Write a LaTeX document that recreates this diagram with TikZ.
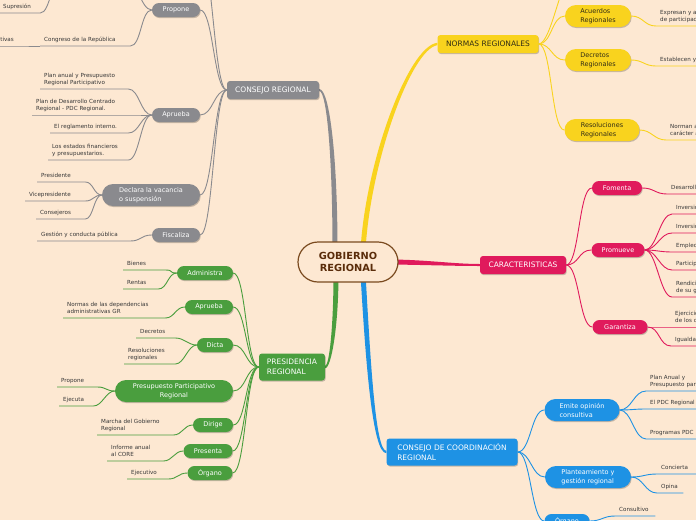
\documentclass[tikz,border=0pt]{standalone}
\usepackage{fontspec}
\setmainfont{DejaVu Sans}
\usetikzlibrary{shadows,calc}
\pgfdeclarelayer{back}
\pgfsetlayers{back,main}
\definecolor{bgc}{RGB}{253,232,210}
\definecolor{grayc}{RGB}{138,138,142}
\definecolor{yelc}{RGB}{249,211,30}
\definecolor{pinkc}{RGB}{224,26,92}
\definecolor{bluec}{RGB}{30,146,228}
\definecolor{greenc}{RGB}{74,158,62}
\definecolor{brownc}{RGB}{122,74,31}
\definecolor{ctext}{RGB}{90,44,10}
\definecolor{leafc}{RGB}{55,55,55}
\definecolor{ytext}{RGB}{50,45,20}
\begin{document}
\begin{tikzpicture}[x=1pt,y=-1pt,
  shd/.style={drop shadow={shadow xshift=0.7pt,shadow yshift=-1.1pt,opacity=0.22,fill=black}},
  mainb/.style={shd,rounded corners=3pt,inner sep=0pt,font=\fontsize{7.5}{10}\selectfont,text=white,align=left},
  pill/.style={shd,rounded corners=7pt,inner sep=0pt,minimum height=14pt,font=\fontsize{6.5}{9}\selectfont,text=white,align=left},
  pilltwo/.style={pill,rounded corners=11pt,minimum height=22pt},
  leaf/.style={font=\fontsize{5.6}{7.8}\selectfont,text=leafc,inner xsep=4pt,inner ysep=1.6pt,execute at end node=\strut,anchor=south west,align=left},
  gl/.style={draw=grayc,line width=0.9pt},
  yl/.style={draw=yelc,line width=0.9pt},
  pl/.style={draw=pinkc,line width=0.9pt},
  bl/.style={draw=bluec,line width=0.9pt},
  grl/.style={draw=greenc,line width=0.9pt}]
\useasboundingbox (0,0) rectangle (696,520);
\clip (0,0) rectangle (696,520);

% ---------- center and main topics
\node[draw=brownc,line width=1.2pt,fill=bgc,rounded corners=20pt,minimum width=100pt,minimum height=40pt,inner sep=0pt,font=\bfseries\fontsize{9.8}{12}\selectfont,text=ctext,align=center] (gr) at (348,262) {GOBIERNO\\REGIONAL};
\node[mainb,fill=grayc,minimum width=92pt,minimum height=18pt] (cr) at (273,90) {CONSEJO REGIONAL};
\node[mainb,fill=yelc,text=ytext,minimum width=101pt,minimum height=18pt] (nr) at (488,44) {NORMAS REGIONALES};
\node[mainb,fill=pinkc,minimum width=86pt,minimum height=18pt] (car) at (523,265) {CARACTERISTICAS};
\node[mainb,fill=bluec,minimum width=131pt,minimum height=27pt] (ccr) at (452,452) {CONSEJO DE COORDINACIÓN\\REGIONAL};
\node[mainb,fill=greenc,minimum width=66pt,minimum height=27pt] (pr) at (292,367) {PRESIDENCIA\\REGIONAL};

% ---------- CONSEJO REGIONAL
\node[pill,fill=grayc,minimum width=48pt] (gPro) at (176,10) {Propone};
\node[pill,fill=grayc,minimum width=48pt] (gApr) at (176,115) {Aprueba};
\node[pilltwo,fill=grayc,minimum width=98pt] (gDec) at (151,195) {Declara la vacancia\\o suspensión};
\node[pill,fill=grayc,minimum width=48pt] (gFis) at (176,235) {Fiscaliza};
\coordinate (crUp) at (200,-45);
\coordinate (proUp) at (125,-25);
\coordinate (supUp) at (62,-25);
\foreach \c in {gPro,gApr,gDec,gFis,crUp}
  \draw[gl] (cr.west) .. controls +(-13,0) and +(13,0) .. (\c.east);
\draw[gl] (gPro.west) .. controls +(-12,0) and +(12,0) .. (proUp);

\node[leaf,text width=82pt] (gCon) at (40,46) {Congreso de la República};
\node[leaf,anchor=south east,align=right,text width=90pt] (gIni) at (18,46) {Iniciativas legislativas};
\node[leaf,text width=33pt] (gSup) at (-1,13) {Supresión};
\node[leaf,text width=80pt] (gA1) at (40,89) {Plan anual y Presupuesto\\Regional Participativo};
\node[leaf,text width=90pt] (gA2) at (32,115) {Plan de Desarrollo Centrado\\Regional - PDC Regional.};
\node[leaf,text width=70pt] (gA3) at (50,133) {El reglamento interno.};
\node[leaf,text width=72pt] (gA4) at (48,160) {Los estados financieros\\y presupuestarios.};
\node[leaf,text width=40pt] (gD1) at (37,182) {Presidente};
\node[leaf,text width=52pt] (gD2) at (25,201) {Vicepresidente};
\node[leaf,text width=41pt] (gD3) at (36,219) {Consejeros};
\node[leaf,text width=85pt] (gF1) at (37,241) {Gestión y conducta pública};

\draw[gl] (gCon.south west) -- (gCon.south east) .. controls +(11,0) and +(-11,0) .. (gPro.west);
\draw[gl] (gIni.south west) -- (gIni.south east) -- (gCon.south west);
\draw[gl] (gSup.south west) -- (gSup.south east) .. controls +(10,0) and +(-10,0) .. (supUp);
\foreach \l in {gA1,gA2,gA3,gA4}
  \draw[gl] (\l.south west) -- (\l.south east) .. controls +(11,0) and +(-11,0) .. (gApr.west);
\foreach \l in {gD1,gD2,gD3}
  \draw[gl] (\l.south west) -- (\l.south east) .. controls +(8,0) and +(-8,0) .. (gDec.west);
\draw[gl] (gF1.south west) -- (gF1.south east) .. controls +(11,0) and +(-11,0) .. (gFis.west);

% ---------- PRESIDENCIA REGIONAL
\node[pill,fill=greenc,minimum width=56pt] (pAdm) at (205,273) {Administra};
\node[pill,fill=greenc,minimum width=48pt] (pApr) at (209,307) {Aprueba};
\node[pill,fill=greenc,minimum width=36pt] (pDic) at (215,345) {Dicta};
\node[pilltwo,fill=greenc,minimum width=118pt,align=center] (pPpr) at (174,391) {Presupuesto Participativo\\Regional};
\node[pill,fill=greenc,minimum width=40pt] (pDir) at (213,425) {Dirige};
\node[pill,fill=greenc,minimum width=49pt] (pPre) at (208,451) {Presenta};
\node[pill,fill=greenc,minimum width=45pt] (pOrg) at (210,473) {Órgano};
\foreach \c in {pAdm,pApr,pDic,pPpr,pDir,pPre,pOrg}
  \draw[grl] (pr.west) .. controls +(-13,0) and +(13,0) .. (\c.east);

\node[leaf,text width=34pt] (pB1) at (123,270) {Bienes};
\node[leaf,text width=27pt] (pB2) at (123,289) {Rentas};
\node[leaf,text width=94pt] (pN1) at (63,318) {Normas de las dependencias\\administrativas GR};
\node[leaf,text width=31pt] (pDc1) at (136,338) {Decretos};
\node[leaf,text width=43pt] (pDc2) at (124,364) {Resoluciones\\regionales};
\node[leaf,text width=32pt] (pP1) at (57,387) {Propone};
\node[leaf,text width=26pt] (pP2) at (59,406) {Ejecuta};
\node[leaf,text width=68pt] (pM1) at (97,435) {Marcha del Gobierno\\Regional};
\node[leaf,text width=48pt] (pI1) at (107,461) {Informe anual\\al CORE};
\node[leaf,text width=33pt] (pE1) at (127,479) {Ejecutivo};
\foreach \l/\p in {pB1/pAdm,pB2/pAdm,pN1/pApr,pDc1/pDic,pDc2/pDic,pP1/pPpr,pP2/pPpr,pM1/pDir,pI1/pPre,pE1/pOrg}
  \draw[grl] (\l.south west) -- (\l.south east) .. controls +(9,0) and +(-9,0) .. (\p.west);

% ---------- NORMAS REGIONALES
\node[pilltwo,fill=yelc,text=ytext,minimum width=66pt] (yAc) at (598,16) {Acuerdos\\Regionales};
\node[pilltwo,fill=yelc,text=ytext,minimum width=66pt] (yDe) at (598,60) {Decretos\\Regionales};
\node[pilltwo,fill=yelc,text=ytext,minimum width=75pt] (yRe) at (602,130) {Resoluciones\\Regionales};
\coordinate (nrUp) at (575,-30);
\foreach \c in {yAc,yDe,yRe,nrUp}
  \draw[yl] (nr.east) .. controls +(13,0) and +(-13,0) .. (\c.west);
\node[leaf,text width=110pt] (yL1) at (656,26) {Expresan y aprueban asuntos\\de participación ciudadana};
\node[leaf,text width=110pt] (yL2) at (656,66) {Establecen y reglamentan};
\node[leaf,text width=110pt] (yL3) at (666,140) {Norman asuntos de\\carácter administrativo};
\foreach \l/\p in {yL1/yAc,yL2/yDe,yL3/yRe}
  \draw[yl] (\p.east) .. controls +(12,0) and +(-12,0) .. (\l.south west) -- (\l.south east);

% ---------- CARACTERISTICAS
\node[pill,fill=pinkc,minimum width=50pt] (cFo) at (617,188) {Fomenta};
\node[pill,fill=pinkc,minimum width=53pt] (cPr) at (618,250) {Promueve};
\node[pill,fill=pinkc,minimum width=55pt] (cGa) at (620,327) {Garantiza};
\foreach \c in {cFo,cPr,cGa}
  \draw[pl] (car.east) .. controls +(13,0) and +(-13,0) .. (\c.west);
\node[leaf,text width=110pt] (cF1) at (667,194) {Desarrollo integral};
\node[leaf,text width=110pt] (cP1) at (672,214) {Inversión pública};
\node[leaf,text width=110pt] (cP2) at (672,233) {Inversión privada};
\node[leaf,text width=110pt] (cP3) at (672,252) {Empleo};
\node[leaf,text width=110pt] (cP4) at (672,270) {Participación ciudadana};
\node[leaf,text width=110pt] (cP5) at (672,297) {Rendición de cuentas\\de su gestión};
\node[leaf,text width=110pt] (cG1) at (671,327) {Ejercicio pleno\\de los derechos};
\node[leaf,text width=110pt] (cG2) at (671,346) {Igualdad de oportunidades};
\foreach \l/\p in {cF1/cFo,cP1/cPr,cP2/cPr,cP3/cPr,cP4/cPr,cP5/cPr,cG1/cGa,cG2/cGa}
  \draw[pl] (\p.east) .. controls +(12,0) and +(-12,0) .. (\l.south west) -- (\l.south east);

% ---------- CONSEJO DE COORDINACION REGIONAL
\node[pilltwo,fill=bluec,minimum width=75pt] (bEm) at (582,410) {Emite opinión\\consultiva};
\node[pilltwo,fill=bluec,minimum width=86pt] (bPl) at (588,477) {Planteamiento y\\gestión regional};
\node[pill,fill=bluec,minimum width=45pt] (bOr) at (567,521) {Órgano};
\foreach \c in {bEm,bPl,bOr}
  \draw[bl] (ccr.east) .. controls +(13,0) and +(-13,0) .. (\c.west);
\node[leaf,text width=110pt] (bE1) at (646,391) {Plan Anual y\\Presupuesto participativo};
\node[leaf,text width=110pt] (bE2) at (646,409) {El PDC Regional};
\node[leaf,text width=110pt] (bE3) at (646,439) {Programas PDC Regional};
\node[leaf,text width=50pt] (bP1) at (657,474) {Concierta};
\node[leaf,text width=18pt] (bP2) at (657,493) {Opina};
\node[leaf,text width=32pt] (bO1) at (615,516) {Consultivo};
\foreach \l/\p in {bE1/bEm,bE2/bEm,bE3/bEm,bP1/bPl,bP2/bPl,bO1/bOr}
  \draw[bl] (\p.east) .. controls +(12,0) and +(-12,0) .. (\l.south west) -- (\l.south east);

% ---------- background and main branches
\begin{pgfonlayer}{back}
\fill[bgc] (0,0) rectangle (696,520);
% gray
\fill[grayc] ($(gr.center)+(-15.5,-12)$) .. controls ($(gr.center)+(-15.5,-100)$) and ($(cr.east)+(8,1)$) .. ($(cr.east)+(0,1)$)
  -- ($(cr.east)+(0,-1)$) .. controls ($(cr.east)+(11,-1)$) and ($(gr.center)+(-10.5,-100)$) .. ($(gr.center)+(-10.5,-12)$) -- cycle;
% yellow
\fill[yelc] ($(gr.center)+(12.5,-12)$) .. controls ($(gr.center)+(17.5,-100)$) and ($(nr.west)+(-29,2)$) .. ($(nr.west)+(0,-1.2)$)
  -- ($(nr.west)+(0,1.2)$) .. controls ($(nr.west)+(-26,5)$) and ($(gr.center)+(22.5,-100)$) .. ($(gr.center)+(17.5,-12)$) -- cycle;
% green
\fill[greenc] ($(gr.center)+(-9.5,12)$) .. controls ($(gr.center)+(-9.5,65)$) and ($(pr.east)+(6,1.2)$) .. ($(pr.east)+(0,1.2)$)
  -- ($(pr.east)+(0,-1.2)$) .. controls ($(pr.east)+(4,-1.2)$) and ($(gr.center)+(-14.5,65)$) .. ($(gr.center)+(-14.5,12)$) -- cycle;
% blue
\fill[bluec] ($(gr.center)+(17.5,12)$) .. controls ($(gr.center)+(22.5,98)$) and ($(ccr.west)+(-11,-1.2)$) .. ($(ccr.west)+(0,-1.2)$)
  -- ($(ccr.west)+(0,1.2)$) .. controls ($(ccr.west)+(-14,1.2)$) and ($(gr.center)+(17.5,98)$) .. ($(gr.center)+(12.5,12)$) -- cycle;
% pink
\fill[pinkc] ($(gr.center)+(45,-2.5)$) .. controls ($(gr.center)+(80,-2)$) and ($(car.west)+(-25,-1)$) .. ($(car.west)+(0,-1)$)
  -- ($(car.west)+(0,1)$) .. controls ($(car.west)+(-25,1)$) and ($(gr.center)+(80,3)$) .. ($(gr.center)+(45,2.5)$) -- cycle;
\end{pgfonlayer}
\end{tikzpicture}
\end{document}
